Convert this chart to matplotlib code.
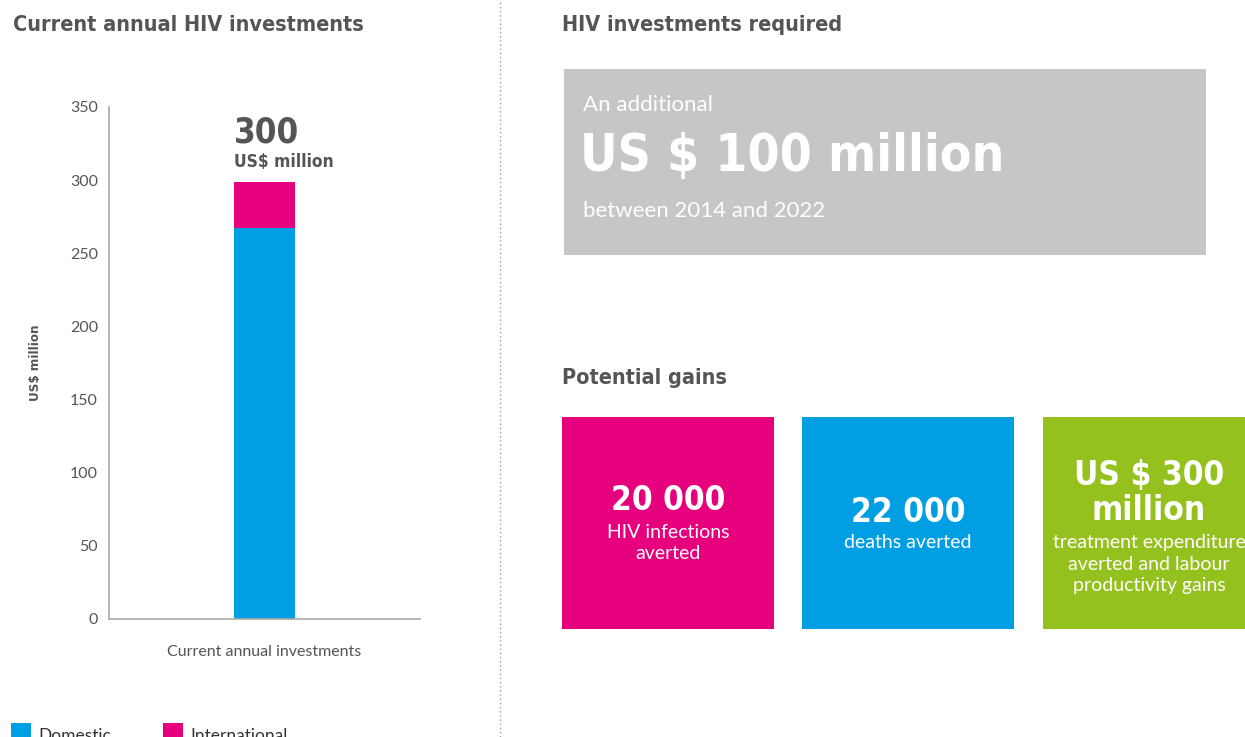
import matplotlib
matplotlib.use('Agg')
import matplotlib.pyplot as plt
from matplotlib.patches import Rectangle
from matplotlib.lines import Line2D

# data
categories = ['Current annual investments']
domestic = [267]
international = [32]
y_ticks = [0, 50, 100, 150, 200, 250, 300, 350]
total_label = '300'

required_lines = ['An additional', 'US $ 100 million', 'between 2014 and 2022']
gain_values = ['20 000', '22 000', 'US $ 300\nmillion']
gain_texts = ['HIV infections\naverted', 'deaths averted',
              'treatment expenditure\naverted and labour\nproductivity gains']

col_dom = '#009fe3'
col_int = '#e6007e'
col_green = '#95c11f'
col_grey = '#c6c6c6'
dark = '#555555'

W, H = 1245, 737
fig = plt.figure(figsize=(W / 100, H / 100), dpi=100)

def fx(x):
    return x / W

def fy(y):
    return 1 - y / H

head = dict(family='DejaVu Sans', fontstretch='condensed', weight='bold')
body = dict(family='Lato')

# left chart
ax = fig.add_axes([fx(109), fy(619), fx(420) - fx(109), fy(107) - fy(619)])
ax.bar(categories, domestic, width=0.39, color=col_dom)
ax.bar(categories, international, bottom=domestic, width=0.39, color=col_int)
ax.set_xlim(-1, 1)
ax.set_ylim(0, 350)
ax.set_yticks(y_ticks)
for s in ['top', 'right']:
    ax.spines[s].set_visible(False)
for s in ['left', 'bottom']:
    ax.spines[s].set_color('#aaaaaa')
    ax.spines[s].set_linewidth(1.2)
ax.tick_params(length=0, colors=dark, labelsize=11.5, pad=8)
ax.tick_params(axis='x', pad=19, labelsize=11.5)
for lbl in ax.get_yticklabels() + ax.get_xticklabels():
    lbl.set_family('Lato')
    lbl.set_color(dark)
ax.set_ylabel('US$ million', fontsize=9.5, color=dark, labelpad=20, **head)

# total annotation above bar
top = domestic[0] + international[0]
ax.text(-0.195, top + 22, total_label, fontsize=25, color=dark, va='bottom', ha='left', **head)
ax.text(-0.195, top + 7, 'US$ million', fontsize=12.5, color=dark, va='bottom', ha='left', **head)

# titles
fig.text(fx(13), fy(25), 'Current annual HIV investments', fontsize=15.5, color=dark, va='center', **head)
fig.text(fx(562), fy(25), 'HIV investments required', fontsize=15.5, color=dark, va='center', **head)
fig.text(fx(562), fy(378), 'Potential gains', fontsize=15.5, color=dark, va='center', **head)

# dotted separator
fig.add_artist(Line2D([fx(500), fx(500)], [0, 1], transform=fig.transFigure,
                      color='#999999', lw=1, linestyle=(0, (1, 2))))

# grey required box
fig.add_artist(Rectangle((fx(564), fy(255)), fx(1206) - fx(564), fy(69) - fy(255),
                         transform=fig.transFigure, color=col_grey, lw=0))
fig.text(fx(583), fy(105), required_lines[0], fontsize=16, color='white', va='center', **body)
fig.text(fx(580), fy(157), required_lines[1], fontsize=37, color='white', va='center', **head)
fig.text(fx(583), fy(211), required_lines[2], fontsize=16, color='white', va='center', **body)

# gain tiles
tiles = [(562, col_int), (802, col_dom), (1043, col_green)]
size = 212
val_y = [501, 513, 493]
txt_y = [543, 543, 564]
for (x0, c), v, t, vy, ty in zip(tiles, gain_values, gain_texts, val_y, txt_y):
    fig.add_artist(Rectangle((fx(x0), fy(417 + size)), fx(size), fy(417) - fy(417 + size),
                             transform=fig.transFigure, color=c, lw=0))
    cx = fx(x0 + size / 2)
    fig.text(cx, fy(vy), v, fontsize=24, color='white', ha='center', va='center',
             linespacing=1.05, **head)
    fig.text(cx, fy(ty), t, fontsize=14, color='white', ha='center', va='center',
             linespacing=1.35, **body)

# legend (cut at bottom edge, as in the source)
for x0, c, name in [(11, col_dom, 'Domestic'), (163, col_int, 'International')]:
    fig.add_artist(Rectangle((fx(x0), fy(745)), fx(20), fy(723) - fy(745),
                             transform=fig.transFigure, color=c, lw=0))
    fig.text(fx(x0 + 27), fy(741), name, fontsize=12.5, color='#333333', va='baseline', **body)

fig.savefig('out.png', dpi=100)
